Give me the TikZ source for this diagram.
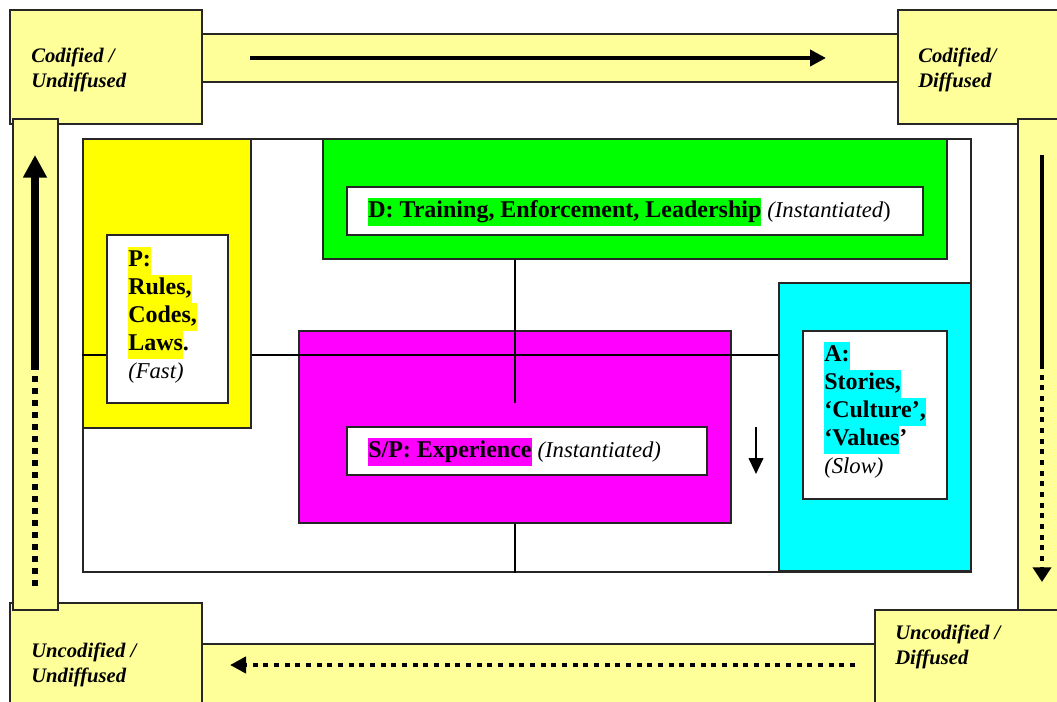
\documentclass[tikz,border=0pt]{standalone}
\usepackage{fontspec}
\setmainfont{Liberation Serif}
\usetikzlibrary{arrows.meta,fit}
\definecolor{paleyel}{HTML}{FFFF99}
\definecolor{hiyel}{HTML}{FFFF00}
\definecolor{higreen}{HTML}{00FF00}
\definecolor{himag}{HTML}{FF00FF}
\definecolor{hicyan}{HTML}{00FFFF}
\setlength{\fboxsep}{0pt}
\newcommand{\hilite}[2]{\colorbox{#1}{\strut #2}}
\newcommand{\pace}[1]{{\fontsize{17}{21}\selectfont\mdseries\itshape #1}}

\begin{document}
\begin{tikzpicture}[x=0.75pt,y=-0.75pt,
  pale/.style={draw=black!85,line width=1.4pt,fill=paleyel,inner sep=0pt},
  area/.style={draw=black!85,line width=1.1pt,inner sep=0pt},
  inbox/.style={draw=black!85,line width=1.1pt,fill=white,inner sep=0pt},
  corner/.style={font=\fontsize{15.5}{18.75}\selectfont\bfseries\itshape,align=left,anchor=west,inner sep=0pt},
  body/.style={font=\fontsize{18}{21}\selectfont\bfseries,align=left,inner sep=0pt},
  link/.style={line width=0.9pt},
  flow/.style={line width=3pt,-{Triangle[length=12pt,width=12pt]}},
  dotflow/.style={line width=3.6pt,dash pattern=on 3.8pt off 4.2pt,-{Triangle[length=12pt,width=12pt]}}]
\useasboundingbox (0,0) rectangle (1057,702);
\fill[white] (0,0) rectangle (1057,702);
\clip (0,0) rectangle (1057,702);

% corners
\node[pale, fit={(10,10) (202,124)}] (cu) {};
\node[pale, fit={(898,10) (1070,124)}] (cd) {};
\node[pale, fit={(10,603) (202,715)}] (uu) {};
\node[pale, fit={(875,610) (1070,715)}] (ud) {};
% bars
\node[pale, fit={(202,34) (898,82)}] (topbar) {};
\node[pale, fit={(202,644) (875,715)}] (botbar) {};
\node[pale, fit={(13,119) (58,610)}] (leftbar) {};
\node[pale, fit={(1018,119) (1070,610)}] (rightbar) {};

\node[corner] (cutext) at (31,70) {Codified /\\Undiffused};
\node[corner] (cdtext) at (918,70) {Codified/\\Diffused};
\node[corner] (uutext) at (31,665) {Uncodified /\\Undiffused};
\node[corner] (udtext) at (895,647) {Uncodified /\\Diffused};

% arrows round the cycle
\coordinate (t1) at (250,58);
\coordinate (t2) at (826,58);
\draw[flow] (t1) -- (t2);
\coordinate (r1) at (1042,155);
\coordinate (r2) at (1042,364);
\coordinate (r3) at (1042,582);
\draw[line width=3pt] (r1) -- (r2);
\draw[dotflow, -{Triangle[length=11pt,width=13.5pt]}] (r2) -- (r3);
\coordinate (b1) at (855,665);
\coordinate (b2) at (230,665);
\draw[dotflow] (b1) -- (b2);
\coordinate (l1) at (35,586);
\coordinate (l2) at (35,375);
\coordinate (l3) at (35,370);
\coordinate (l4) at (35,155);
\draw[line width=4.5pt, dash pattern=on 4.5pt off 4.5pt] (l1) -- (l2);
\draw[line width=5.5pt, -{Triangle[length=17pt,width=17pt]}] (l3) -- (l4);

% inner frame
\node[area, fit={(83,139) (971,572)}] (frame) {};
\coordinate (mid) at (0,355);
\coordinate (stub) at (515,403);
\node[area, fill=hiyel, fit={(83,139) (251,428)}] (pbox) {};
\node[area, fill=higreen, fit={(323,139) (947,259)}] (dbox) {};
\node[area, fill=himag, fit={(299,331) (731,523)}] (spbox) {};
\node[area, fill=hicyan, fit={(779,283) (971,571)}] (abox) {};
\node[inbox, fit={(107,235) (228,403)}] (pin) {};
\draw[link] (frame.west |- mid) -- (pin.west |- mid);
\draw[link] (pbox.east |- mid) -- (abox.west |- mid);
\draw[link] (stub |- dbox.south) -- (stub);
\draw[link] (stub |- spbox.south) -- (stub |- frame.south);
\node[inbox, fit={(347,187) (923,235)}] (din) {};
\node[inbox, fit={(347,427) (707,475)}] (spin) {};
\node[inbox, fit={(803,331) (947,499)}] (ain) {};

%\node[body] at (128,247) {P};
\node[body, anchor=north west] (ptext) at (128,247)
  {\hilite{hiyel}{P:}\\\hilite{hiyel}{Rules,}\\\hilite{hiyel}{Codes,}\\\hilite{hiyel}{Laws}.\\\pace{(Fast)}};
\node[body, anchor=west] (dtext) at (368,212)
  {\hilite{higreen}{D: Training, Enforcement, Leadership} \pace{(Instantiated{\upshape)}}};
\node[body, anchor=west] (sptext) at (368,452)
  {\hilite{himag}{S/P: Experience} \pace{(Instantiated)}};
\node[body, anchor=north west] (atext) at (824,342)
  {\hilite{hicyan}{A:}\\\hilite{hicyan}{Stories,}\\\hilite{hicyan}{‘Culture’,}\\\hilite{hicyan}{‘Values}’\\\pace{(Slow)}};

\coordinate (s1) at (756,427);
\coordinate (s2) at (756,474);
\draw[line width=1.5pt, -{Triangle[length=12pt,width=11pt]}] (s1) -- (s2);
\end{tikzpicture}
\end{document}
